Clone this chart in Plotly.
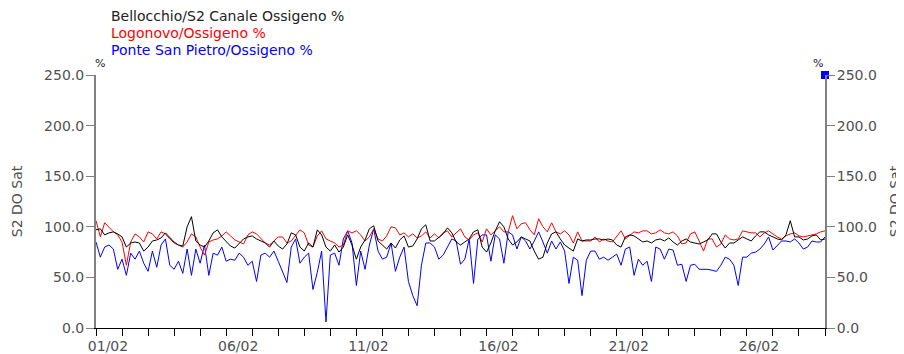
import pandas as pd
import plotly.graph_objects as go

# 4-hourly readings, 01/02/2008 00:00 to 29/02/2008 00:00
start = "2008-02-01 00:00"
step = "4h"

bellocchio = [
    97, 98, 92, 94, 95, 93, 90, 80, 84, 85, 84, 76, 80, 86, 87, 89, 94, 89, 85, 82, 81, 100, 110, 86, 82, 80, 86, 94, 97, 90, 85, 81, 79, 83, 88, 90, 91, 88, 86, 84, 80, 86, 81,
    78, 83, 94, 92, 80, 76, 84, 80, 97, 92, 80, 76, 82, 75, 80, 92, 82, 68, 80, 87, 98, 101, 86, 82, 78, 84, 79, 87, 91, 80, 81, 88, 98, 102, 86, 86, 90, 93, 99, 94, 85, 82,
    85, 88, 95, 97, 80, 75, 84, 96, 105, 100, 88, 82, 85, 90, 88, 86, 76, 68, 70, 84, 93, 95, 88, 82, 79, 76, 88, 86, 87, 87, 88, 88, 87, 88, 87, 82, 80, 90, 92, 91, 88, 85,
    86, 84, 87, 88, 86, 89, 85, 82, 86, 88, 85, 84, 83, 85, 87, 93, 93, 85, 79, 84, 84, 87, 90, 88, 86, 91, 95, 95, 92, 90, 88, 87, 92, 106, 90, 90, 87, 88, 91, 92, 87, 88,
]

logonovo = [
    106, 90, 104, 99, 95, 92, 85, 62, 85, 93, 90, 85, 95, 93, 88, 95, 93, 88, 84, 82, 80, 85, 93, 90, 80, 72, 85, 87, 88, 91, 95, 91, 87, 85, 83, 92, 95, 93, 88, 84, 82, 86, 90,
    90, 84, 86, 92, 97, 94, 82, 80, 91, 96, 88, 86, 84, 80, 82, 96, 94, 96, 92, 86, 90, 98, 88, 86, 91, 100, 99, 92, 94, 90, 93, 89, 91, 95, 89, 93, 89, 94, 96, 90, 94, 98,
    90, 87, 92, 94, 85, 98, 92, 96, 100, 95, 95, 111, 98, 103, 104, 97, 92, 108, 100, 95, 104, 95, 93, 96, 92, 84, 95, 86, 86, 86, 90, 85, 88, 86, 85, 90, 96, 88, 92, 95, 94, 96,
    96, 93, 94, 97, 94, 93, 95, 91, 83, 84, 93, 95, 86, 76, 88, 88, 80, 83, 92, 88, 87, 88, 96, 95, 94, 94, 90, 94, 96, 93, 90, 88, 91, 93, 94, 91, 90, 91, 92, 93, 95, 96,
]

ponte_san_pietro = [
    85, 70, 80, 82, 78, 58, 68, 52, 74, 68, 76, 64, 56, 76, 60, 82, 88, 62, 58, 66, 54, 78, 52, 78, 64, 82, 52, 74, 72, 80, 66, 68, 67, 74, 70, 62, 66, 46, 72, 74, 70, 76, 66,
    55, 45, 80, 88, 64, 70, 74, 38, 55, 76, 6, 72, 74, 62, 88, 96, 84, 42, 76, 58, 82, 98, 76, 68, 70, 84, 56, 70, 80, 46, 32, 22, 62, 84, 84, 80, 68, 72, 80, 88, 86, 63,
    68, 88, 44, 88, 92, 92, 66, 92, 88, 64, 95, 92, 78, 90, 86, 78, 86, 95, 85, 74, 86, 78, 85, 76, 44, 70, 67, 32, 67, 76, 76, 68, 70, 67, 70, 73, 62, 78, 80, 52, 68, 62,
    66, 46, 80, 78, 68, 78, 77, 62, 63, 46, 62, 63, 58, 58, 58, 57, 56, 62, 70, 68, 62, 42, 70, 70, 74, 75, 78, 83, 90, 77, 82, 86, 86, 85, 88, 84, 78, 80, 86, 85, 85, 90,
]

# lone marker drawn at the top of the right axis
marker_time = ["2008-02-29 00:00"]
marker_value = [250]

series_names = [
    "Bellocchio/S2 Canale Ossigeno %",
    "Logonovo/Ossigeno %",
    "Ponte San Pietro/Ossigeno %",
]
series_colors = ["#000000", "#ff0000", "#0000ff"]

tick_days = ["2008-02-01", "2008-02-06", "2008-02-11", "2008-02-16", "2008-02-21", "2008-02-26"]
tick_labels = ["01/02", "06/02", "11/02", "16/02", "21/02", "26/02"]
y_ticks = [0, 50, 100, 150, 200, 250]

times = pd.date_range(start=start, periods=len(bellocchio), freq=step)

fig = go.Figure()
# draw order: blue at back, then red, then black
for vals, name, col in [
    (ponte_san_pietro, series_names[2], series_colors[2]),
    (logonovo, series_names[1], series_colors[1]),
    (bellocchio, series_names[0], series_colors[0]),
]:
    fig.add_trace(go.Scatter(x=times, y=vals, mode="lines", name=name,
                             line=dict(color=col, width=1), showlegend=False))

fig.add_trace(go.Scatter(x=marker_time, y=marker_value, mode="markers", yaxis="y2",
                         marker=dict(symbol="square", size=8, color="#0000ff"),
                         cliponaxis=False, showlegend=False, hoverinfo="skip"))

font = "DejaVu Sans, Verdana, sans-serif"
TXT = "#505050"
axis_common = dict(
    range=[0, 250], tickvals=y_ticks, tickformat=".1f",
    showgrid=False, zeroline=False, automargin=False,
    showline=True, linecolor="#808080", linewidth=2,
    ticks="outside", ticklen=8, tickcolor="#808080",
    tickfont=dict(family=font, size=14, color=TXT),
    ticklabelstandoff=-1,
)

# the page body adds an 8px offset, so the figure is 8px smaller than the window
fig.update_layout(
    width=896, height=346,
    margin=dict(l=88, r=79, t=67, b=26),
    paper_bgcolor="white", plot_bgcolor="white",
    font=dict(family=font, size=14, color=TXT),
    xaxis=dict(
        type="date", automargin=False,
        range=["2008-02-01", "2008-02-29"],
        tickvals=tick_days, ticktext=tick_labels,
        showgrid=False, zeroline=False,
        showline=True, linecolor="#000000", linewidth=1,
        ticks="outside", ticklen=7, tickcolor="#000000",
        tickfont=dict(family=font, size=14, color=TXT),
        ticklabelshift=12, ticklabelstandoff=-2,
        minor=dict(dtick=86400000, ticks="outside", ticklen=7, tickcolor="#000000", showgrid=False),
    ),
    yaxis=dict(side="left",
               title=dict(text="S2 DO Sat", standoff=18, font=dict(family=font, size=14, color=TXT)),
               **axis_common),
    yaxis2=dict(side="right", overlaying="y",
                title=dict(text="S2 DO Sat", standoff=14, font=dict(family=font, size=14, color=TXT)),
                **axis_common),
)

for i, (name, col) in enumerate(zip(series_names, series_colors)):
    fig.add_annotation(xref="paper", yref="paper", x=(109 - 96) / 729, y=1 + (59.5 - 17.5 * i) / 253,
                       xanchor="left", yanchor="middle", showarrow=False, text=name,
                       font=dict(family=font, size=14, color=col if col != "#000000" else "#222222"))

for xp in [0, 1]:
    fig.add_annotation(xref="paper", yref="paper", x=xp + (4 if xp == 0 else -7) / 729, y=1 + 12 / 253,
                       xanchor="center", yanchor="middle", showarrow=False, text="%",
                       font=dict(family=font, size=11, color="#222222"))

fig.write_html("out.html")
